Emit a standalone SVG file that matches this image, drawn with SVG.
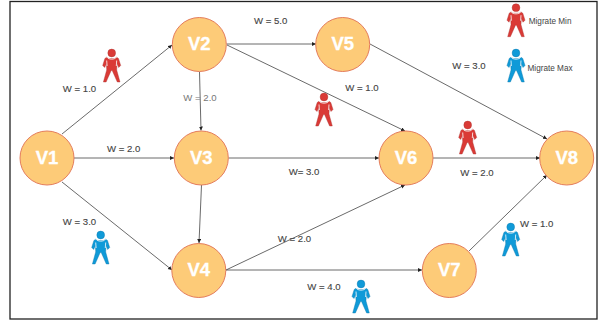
<svg xmlns="http://www.w3.org/2000/svg" width="601" height="322" viewBox="0 0 601 322">
<style>
text{font-family:"Liberation Sans",Arial,sans-serif;text-anchor:middle;dominant-baseline:central}
.n{fill:#FDCB78;stroke:#E47C5C;stroke-width:1}
.v{font-size:18.5px;font-weight:bold;fill:#fff;stroke:#fff;stroke-width:.3}
.w{font-size:9.6px;fill:#444;stroke:#444;stroke-width:.12}
.g{font-size:9.6px;fill:#777}
.l{font-size:8.2px;fill:#444;text-anchor:start}
.e{fill:none;stroke:#444;stroke-width:.8;marker-end:url(#a)}
.red{fill:#DA3A36;stroke:#A83432;stroke-width:.4}
.blue{fill:#0F9AD8;stroke:#0C76A8;stroke-width:.4}
.slit{fill:none;stroke:#fff;stroke-width:.8}
</style>
<defs>
<marker id="a" markerUnits="userSpaceOnUse" markerWidth="5" markerHeight="5" refX="4" refY="2" orient="auto"><path d="M0 0L4 2L0 4Z" fill="#222"/></marker>
<g id="p">
<circle cx="0" cy="4" r="3.9"/>
<path d="M-5 8.200L-3 9.500H3L5 8.200L6.800 9.500L9 16.500L7 18.500L5.300 14.500L5 21L8.300 33H5.600L0.500 21.500H-.5L-5.600 33H-8.300L-5 21L-5.300 14.500L-7 18.500L-9 16.500L-6.800 9.500Z"/>
<path class="slit" d="M-4.800 8.200C-3 10.800 3 10.800 4.800 8.200M-5 11.500L-4.600 17M5 11.500L4.600 17"/>
</g>
</defs>
<rect x="10" y="1.500" width="587" height="317.500" fill="#fff" stroke="#222" stroke-width="1.300"/>
<g id="connectors">
<path class="e" d="M62 134L172 45"/>
<path class="e" d="M74 158H174"/>
<path class="e" d="M62 182L172 270"/>
<path class="e" d="M199.500 72L201 130.500"/>
<path class="e" d="M226.500 44H316"/>
<path class="e" d="M227 45L405 131"/>
<path class="e" d="M201.500 185L199 243"/>
<path class="e" d="M228.500 158H379"/>
<path class="e" d="M226 270L405 185"/>
<path class="e" d="M226 270H422"/>
<path class="e" d="M370 44L547 139"/>
<path class="e" d="M433 158H540"/>
<path class="e" d="M469 251L547 175"/>
</g>
<g id="V1"><circle class="n" cx="47" cy="158" r="27"/><text class="v" x="47" y="157">V1</text></g>
<g id="V2"><circle class="n" cx="199.300" cy="44.500" r="27"/><text class="v" x="199.300" y="43.500">V2</text></g>
<g id="V3"><circle class="n" cx="201.300" cy="158" r="27"/><text class="v" x="201.300" y="157">V3</text></g>
<g id="V4"><circle class="n" cx="198.800" cy="270.500" r="27"/><text class="v" x="198.800" y="269.500">V4</text></g>
<g id="V5"><circle class="n" cx="342.700" cy="44.500" r="27"/><text class="v" x="342.700" y="43.500">V5</text></g>
<g id="V6"><circle class="n" cx="406" cy="158" r="27"/><text class="v" x="406" y="157">V6</text></g>
<g id="V7"><circle class="n" cx="449.300" cy="270.500" r="27"/><text class="v" x="449.300" y="269.500">V7</text></g>
<g id="V8"><circle class="n" cx="566.700" cy="158" r="27"/><text class="v" x="566.700" y="157">V8</text></g>
<g id="labels">
<text class="w" x="79.500" y="88">W = 1.0</text>
<text class="g" x="200" y="97">W = 2.0</text>
<text class="w" x="270.700" y="20">W = 5.0</text>
<text class="w" x="123.700" y="148">W = 2.0</text>
<text class="w" x="469" y="65">W = 3.0</text>
<text class="w" x="362" y="87.500">W = 1.0</text>
<text class="w" x="304" y="171.500">W= 3.0</text>
<text class="w" x="477" y="172">W = 2.0</text>
<text class="w" x="79.500" y="221.700">W = 3.0</text>
<text class="w" x="294.500" y="238">W = 2.0</text>
<text class="w" x="324" y="286">W = 4.0</text>
<text class="w" x="536.700" y="223">W = 1.0</text>
<text class="l" x="528.700" y="21.500">Migrate Min</text>
<text class="l" x="527.500" y="68.500">Migrate Max</text>
</g>
<g id="people">
<use href="#p" class="red" x="111.700" y="49"/>
<use href="#p" class="red" x="324" y="93"/>
<use href="#p" class="red" x="467.700" y="121"/>
<use href="#p" class="red" x="516" y="3.700"/>
<use href="#p" class="blue" x="516" y="49"/>
<use href="#p" class="blue" x="100.700" y="231"/>
<use href="#p" class="blue" x="361" y="280"/>
<use href="#p" class="blue" x="510.700" y="223"/>
</g>
</svg>
